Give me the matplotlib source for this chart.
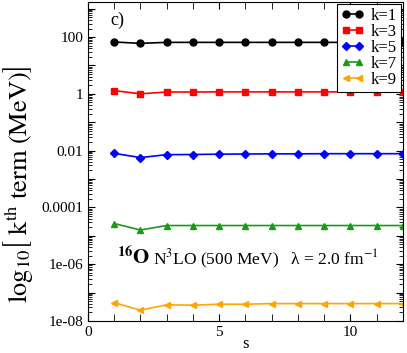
import matplotlib
matplotlib.use("Agg")
import matplotlib.pyplot as plt
import matplotlib.ticker as mticker
import numpy as np

plt.rcParams['font.family'] = ['Liberation Serif', 'DejaVu Serif']
plt.rcParams['mathtext.fontset'] = 'stix'

s = [1, 2, 3, 4, 5, 6, 7, 8, 9, 10, 11, 12]
k1 = [67, 60, 65, 65, 65, 65, 65, 65, 65, 65, 65, 65]
k3 = [1.3, 1.0, 1.16, 1.16, 1.17, 1.17, 1.17, 1.17, 1.17, 1.17, 1.17, 1.17]
k5 = [0.0080, 0.0057, 0.0072, 0.0073, 0.0075, 0.0076, 0.0077, 0.0077, 0.0078, 0.0078, 0.0078, 0.0078]
k7 = [2.7e-5, 1.6e-5, 2.3e-5, 2.3e-5, 2.3e-5, 2.3e-5, 2.3e-5, 2.3e-5, 2.3e-5, 2.3e-5, 2.3e-5, 2.3e-5]
k9 = [4.4e-8, 2.4e-8, 3.7e-8, 3.6e-8, 3.9e-8, 3.9e-8, 4.1e-8, 4.1e-8, 4.1e-8, 4.1e-8, 4.1e-8, 4.1e-8]

ytick_vals = [1e-8, 1e-7, 1e-6, 1e-5, 1e-4, 1e-3, 1e-2, 1e-1, 1, 10, 100, 1000]
ytick_labels = ['1e-08', '', '1e-06', '', '0.0001', '', '0.01', '', '1', '', '100', '']

series = [
    ("k=1", k1, "black", "o"),
    ("k=3", k3, "red", "s"),
    ("k=5", k5, "blue", "D"),
    ("k=7", k7, "#1a9a1a", "^"),
    ("k=9", k9, "orange", "<"),
]

fig = plt.figure(figsize=(4.07, 3.53), dpi=100)
ax = fig.add_axes([0.216, 0.0907, 0.774, 0.9033])

for lab, vals, col, mk in series:
    ms = 4.5 if mk == "D" else 5
    ax.plot(s, vals, color=col, marker=mk, markersize=ms, lw=1.2, label=lab)

ax.set_yscale('log')
ax.set_xlim(0, 12)
ax.set_ylim(1e-8, 1.7e3)
ax.set_yticks(ytick_vals)
ax.set_yticklabels(ytick_labels)
ax.yaxis.set_minor_locator(mticker.LogLocator(base=10, subs=np.arange(2, 10), numticks=100))
ax.yaxis.set_minor_formatter(mticker.NullFormatter())
ax.set_xticks([0, 5, 10])
ax.set_xticks(np.arange(0, 13, 1), minor=True)
ax.tick_params(which='both', direction='in', top=True, right=True, labelsize=11)
ax.tick_params(which='major', length=5)
ax.tick_params(which='minor', length=3)
ax.tick_params(axis='x', which='minor', length=5)

ax.set_xlabel('s', fontsize=12, labelpad=-2)
ax.set_ylabel(r'$\mathrm{log}_{10}\left[\ \mathrm{k}^{\mathrm{th}}\ \mathrm{term\ (MeV)}\right]$', fontsize=19)
ax.yaxis.set_label_coords(-0.168, 0.43)

ax.text(0.07, 0.93, 'c)', transform=ax.transAxes, fontsize=13)
ax.text(0.092, 0.176, r'$^{\mathbf{16}}\mathbf{O}$', transform=ax.transAxes, fontsize=15)
ax.text(0.206, 0.176, r'N$^3$LO (500 MeV)   λ = 2.0 fm$^{-1}$', transform=ax.transAxes, fontsize=12.5)

leg = ax.legend(loc='upper right', fontsize=12, frameon=True, fancybox=False,
                edgecolor='black', handlelength=1.4, numpoints=2, borderaxespad=0.1,
                labelspacing=0.0, handletextpad=0.4, borderpad=0.25, framealpha=1)
leg.get_frame().set_linewidth(0.8)

fig.savefig('out.png', dpi=100)
